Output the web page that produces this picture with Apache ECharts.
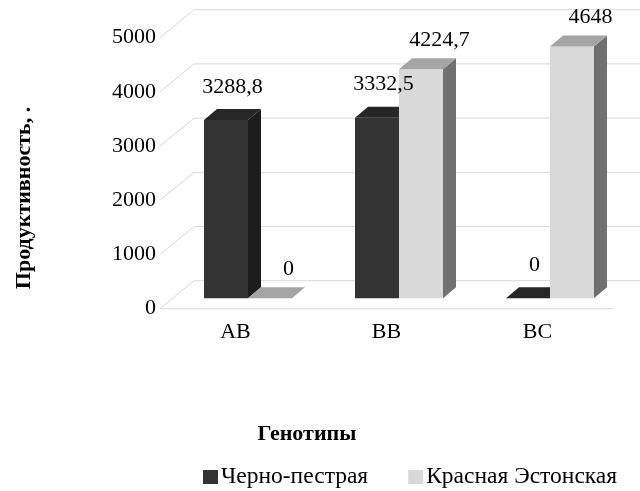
<!DOCTYPE html>
<html>
<head>
<meta charset="utf-8">
<script src="https://cdn.jsdelivr.net/npm/echarts@6/dist/echarts.min.js"></script>
<style>
  html, body { margin: 0; padding: 0; background: #fff; }
  #chart { width: 640px; height: 491px; }
</style>
</head>
<body>
<div id="chart"></div>
<script>
// Genotype productivity by breed
const categories = ['AB', 'BB', 'BC'];
const seriesNames = ['Черно-пестрая', 'Красная Эстонская'];
const blackPied = [3288.8, 3332.5, 0];
const redEstonian = [0, 4224.7, 4648];
const yTicks = [0, 1000, 2000, 3000, 4000, 5000];

const FONT = '"Liberation Serif", "Times New Roman", serif';

// 3D projection: full depth of the plot box, bar plane offset, bar thickness
const DEPTH = [34, -28];
const BAR_PLANE = [12.5, -10.4];
const BAR_DEPTH = [13, -11];
const BAR_W = 44;

const faces = [
  { front: '#333333', top: '#262626', side: '#1d1d1d', labelDx: 0, labelDy: -33 },
  { front: '#d9d9d9', top: '#a5a5a5', side: '#707070', labelDx: 12, labelDy: -29 }
];

function fmt(v) { return String(v).replace('.', ','); }

function wallItem(params, api) {
  const cs = params.coordSys;
  const p = api.coord([0, api.value(1)]);
  const x0 = cs.x, y = p[1];
  const style = { stroke: '#d9d9d9', lineWidth: 1, fill: null };
  const children = [{
    type: 'polyline',
    shape: { points: [[x0, y], [x0 + DEPTH[0], y + DEPTH[1]], [640, y + DEPTH[1]]] },
    style: style
  }];
  if (api.value(1) === 0) {
    children.push({
      type: 'line',
      shape: { x1: x0, y1: y, x2: x0 + cs.width, y2: y },
      style: style
    });
  }
  return { type: 'group', children: children };
}

// geometry of one bar (front face corners in pixels)
function barBox(s, api) {
  const i = api.value(0), v = api.value(1);
  const base = api.coord([i, 0]);
  const topPt = api.coord([i, v]);
  const x1 = base[0] + BAR_PLANE[0] - BAR_W + s * BAR_W;
  return {
    v: v, x1: x1, x2: x1 + BAR_W,
    yb: base[1] + BAR_PLANE[1], yt: topPt[1] + BAR_PLANE[1]
  };
}

function barRenderer(s) {
  const f = faces[s];
  return function (params, api) {
    const b = barBox(s, api);
    const dx = BAR_DEPTH[0], dy = BAR_DEPTH[1];
    const children = [];
    if (b.v > 0) {
      children.push({
        type: 'polygon',
        shape: { points: [[b.x2, b.yb], [b.x2 + dx, b.yb + dy], [b.x2 + dx, b.yt + dy], [b.x2, b.yt]] },
        style: { fill: f.side }
      });
      children.push({
        type: 'rect',
        shape: { x: b.x1, y: b.yt, width: BAR_W, height: b.yb - b.yt },
        style: { fill: f.front }
      });
    }
    children.push({
      type: 'polygon',
      shape: { points: [[b.x1, b.yt], [b.x2, b.yt], [b.x2 + dx, b.yt + dy], [b.x1 + dx, b.yt + dy]] },
      style: { fill: f.top }
    });
    return { type: 'group', children: children };
  };
}

function labelRenderer(s) {
  const f = faces[s];
  return function (params, api) {
    const b = barBox(s, api);
    return {
      type: 'text',
      x: (b.x1 + b.x2 + BAR_DEPTH[0]) / 2 + f.labelDx,
      y: b.yt + f.labelDy,
      style: {
        text: fmt(b.v), font: '22px ' + FONT, fill: '#000',
        align: 'center', verticalAlign: 'middle'
      }
    };
  };
}

const chart = echarts.init(document.getElementById('chart'), null, { renderer: 'canvas' });

chart.setOption({
  backgroundColor: '#ffffff',
  animation: false,
  grid: { left: 160, right: 27, top: 37.7, bottom: 182.3 },
  xAxis: {
    type: 'category',
    data: categories,
    axisLine: { show: false },
    axisTick: { show: false },
    axisLabel: { color: '#000', fontFamily: FONT, fontSize: 22, margin: 13 }
  },
  yAxis: {
    type: 'value',
    min: 0, max: 5000, interval: 1000,
    axisLine: { show: false },
    axisTick: { show: false },
    splitLine: { show: false },
    axisLabel: {
      color: '#000', fontFamily: FONT, fontSize: 22, margin: 4,
      formatter: function (v) { return String(v); }
    }
  },
  legend: {
    data: seriesNames,
    left: 198, top: 460,
    icon: 'rect', itemWidth: 15, itemHeight: 14, itemGap: 40,
    textStyle: { color: '#000', fontFamily: FONT, fontSize: 23.5, padding: [0, 0, 0, -2] }
  },
  graphic: [
    {
      type: 'text', x: 24, y: 198, rotation: Math.PI / 2,
      style: {
        text: 'Продуктивность, .', font: 'bold 22px ' + FONT, fill: '#000',
        align: 'center', verticalAlign: 'middle'
      }
    },
    {
      type: 'text', x: 307, y: 434,
      style: {
        text: 'Генотипы', font: 'bold 22px ' + FONT, fill: '#000',
        align: 'center', verticalAlign: 'middle'
      }
    }
  ],
  series: [
    {
      type: 'custom',
      silent: true,
      data: yTicks.map(function (t) { return [0, t]; }),
      renderItem: wallItem,
      z: 1
    },
    {
      name: seriesNames[0],
      type: 'custom',
      itemStyle: { color: faces[0].front },
      data: blackPied.map(function (v, i) { return [i, v]; }),
      renderItem: barRenderer(0),
      z: 2
    },
    {
      name: seriesNames[1],
      type: 'custom',
      itemStyle: { color: faces[1].front },
      data: redEstonian.map(function (v, i) { return [i, v]; }),
      renderItem: barRenderer(1),
      z: 3
    },
    {
      name: seriesNames[0],
      type: 'custom',
      silent: true,
      data: blackPied.map(function (v, i) { return [i, v]; }),
      renderItem: labelRenderer(0),
      z: 4
    },
    {
      name: seriesNames[1],
      type: 'custom',
      silent: true,
      data: redEstonian.map(function (v, i) { return [i, v]; }),
      renderItem: labelRenderer(1),
      z: 4
    }
  ]
});
</script>
</body>
</html>
